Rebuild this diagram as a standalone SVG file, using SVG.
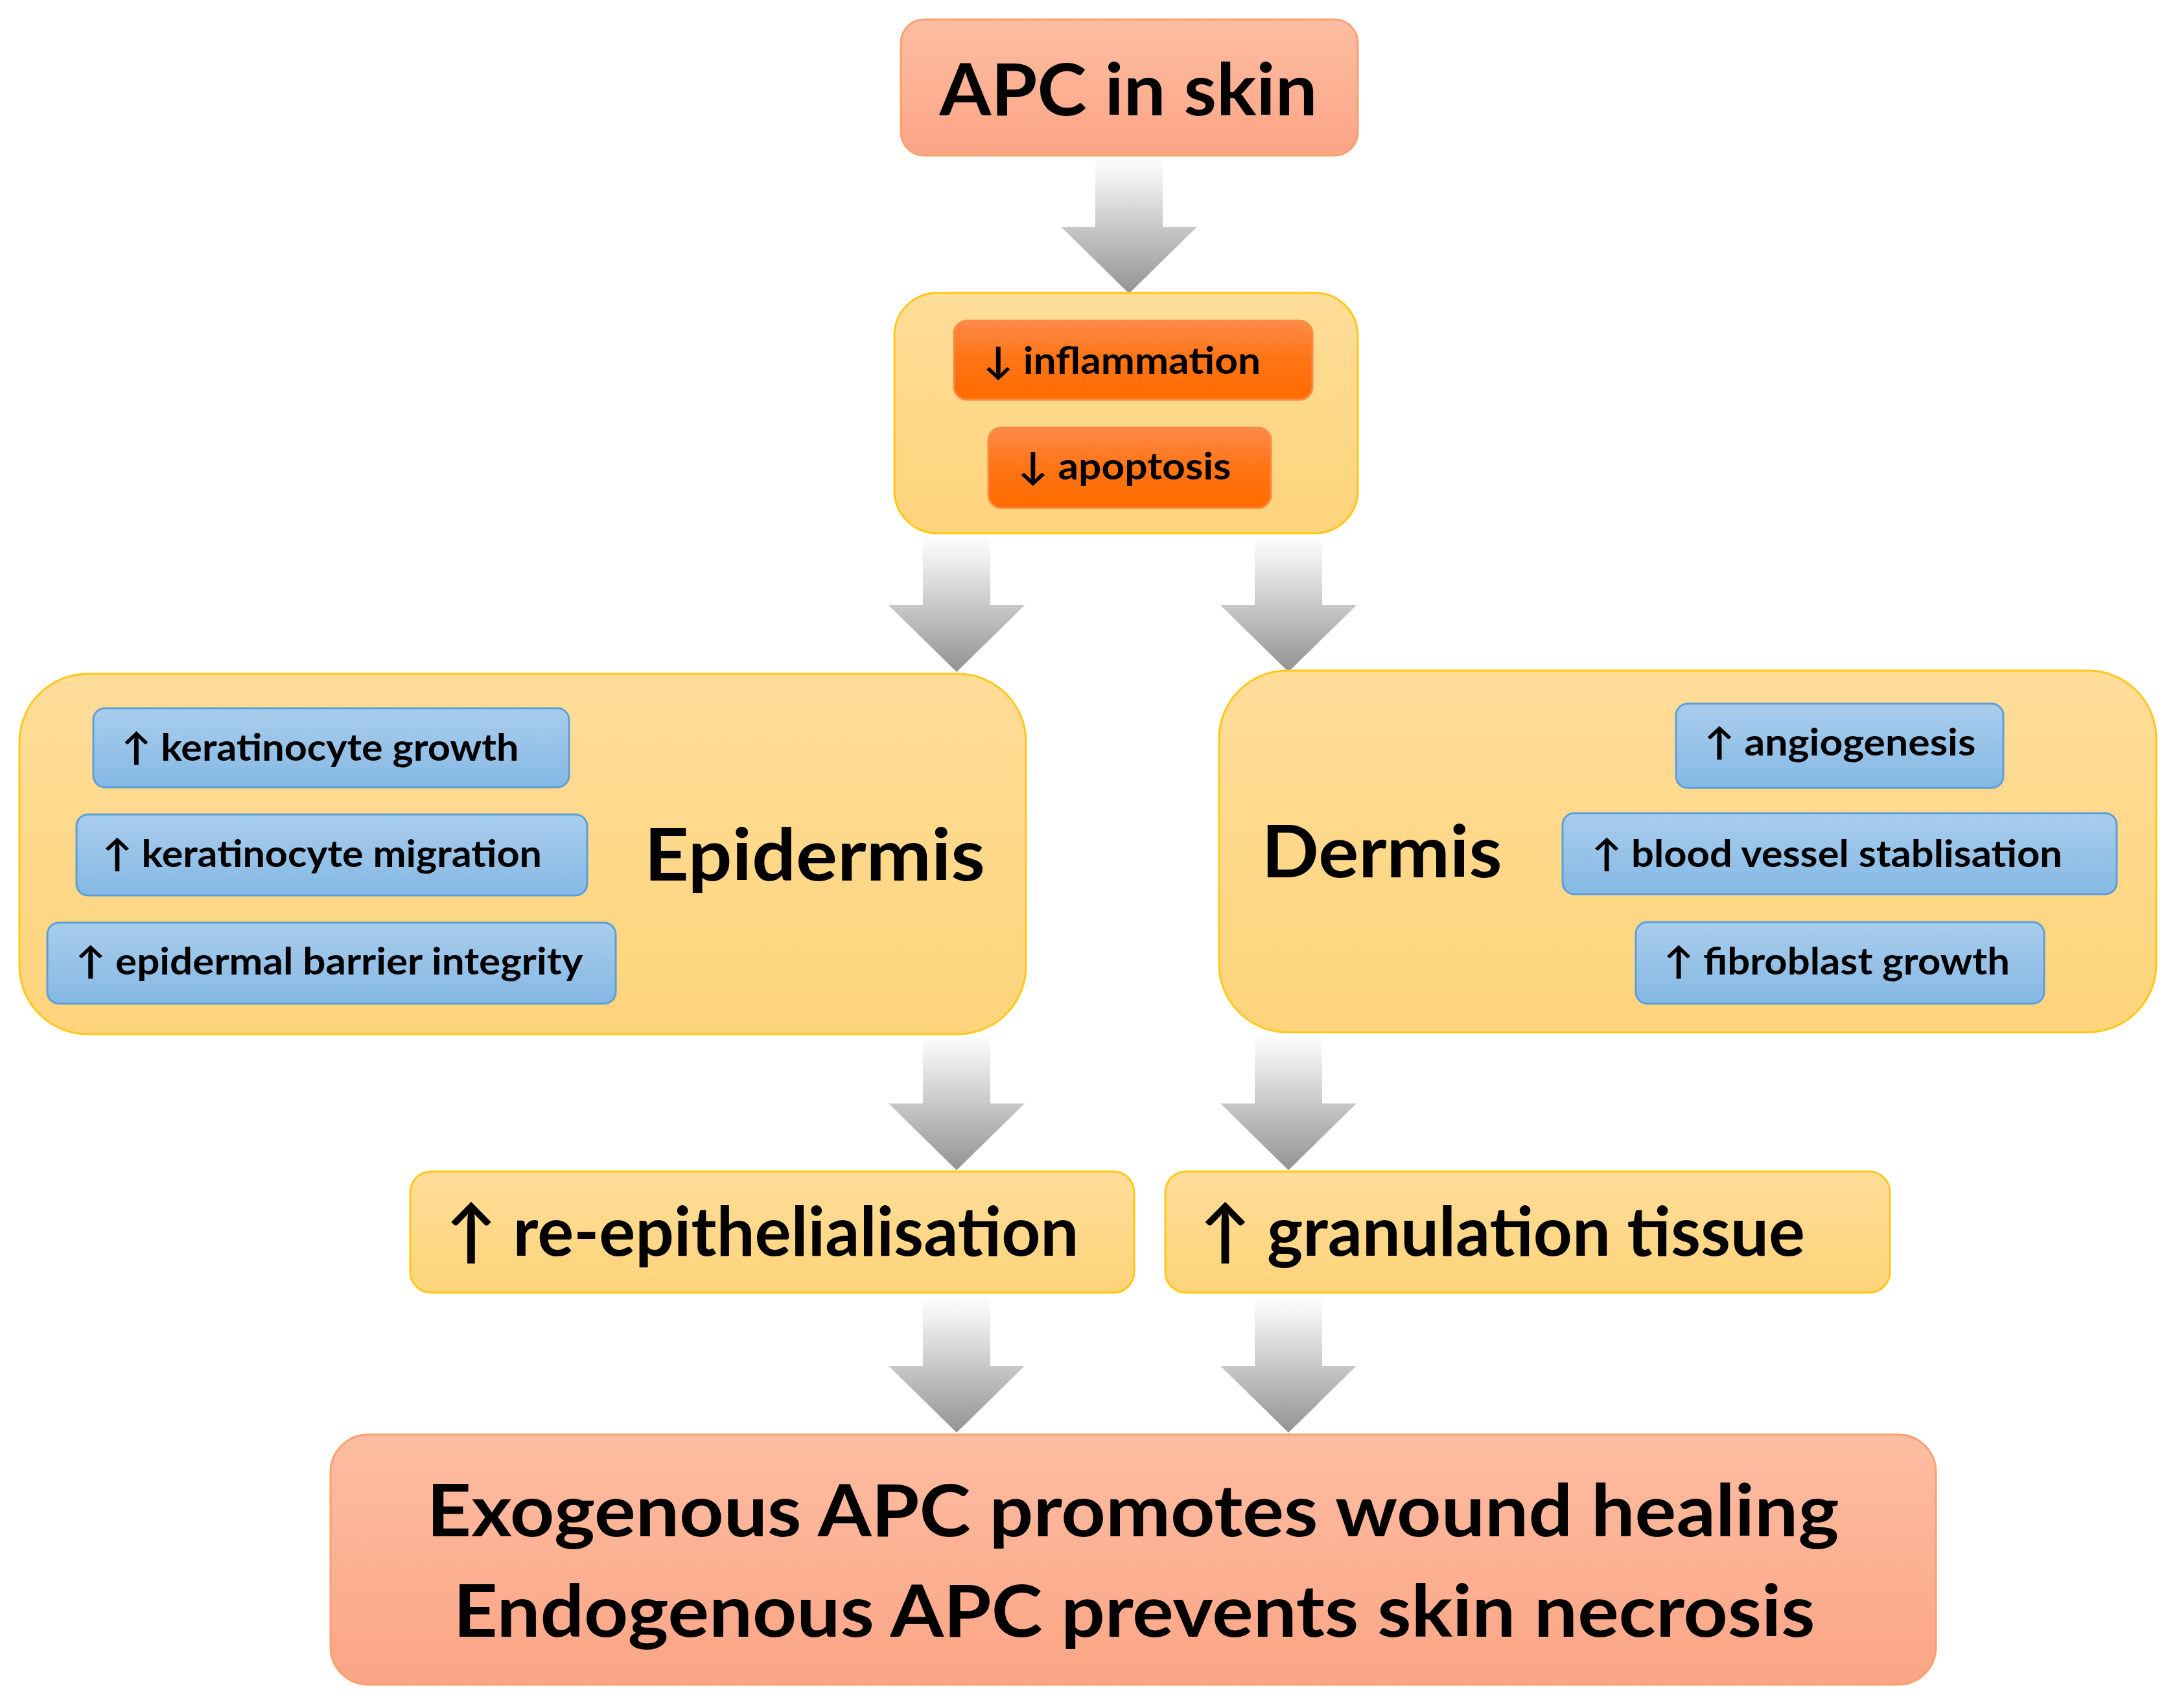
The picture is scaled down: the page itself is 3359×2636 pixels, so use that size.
<svg xmlns="http://www.w3.org/2000/svg" width="3359" height="2636" viewBox="0 0 3359 2636">
<style>
text{font-family:Lato,"Open Sans","Liberation Sans",sans-serif;font-weight:bold;fill:#000;text-anchor:middle}
.salmon{fill:url(#gSalmon);stroke:#f9a070;stroke-width:3}
.yellow{fill:url(#gYellow);stroke:#ffc819;stroke-width:3}
.orange{fill:url(#gOrange);stroke:#fb8a45;stroke-width:3}
.blue{fill:url(#gBlue);stroke:#5d9fd8;stroke-width:3}
.big{font-size:112px}
.mid{font-size:106px}
.small{font-size:58px}
</style>
<defs>
<linearGradient id="gSalmon" x1="0" y1="0" x2="0" y2="1"><stop offset="0" stop-color="#fdbda1"/><stop offset="1" stop-color="#fba585"/></linearGradient>
<linearGradient id="gYellow" x1="0" y1="0" x2="0" y2="1"><stop offset="0" stop-color="#fedd99"/><stop offset="1" stop-color="#fed47b"/></linearGradient>
<linearGradient id="gOrange" x1="0" y1="0" x2="0" y2="1"><stop offset="0" stop-color="#fd8a48"/><stop offset="0.5" stop-color="#ff7414"/><stop offset="1" stop-color="#ff6b00"/></linearGradient>
<linearGradient id="gBlue" x1="0" y1="0" x2="0" y2="1"><stop offset="0" stop-color="#a9cdec"/><stop offset="1" stop-color="#85b8e4"/></linearGradient>
<linearGradient id="gArrow" x1="0" y1="0" x2="0" y2="1"><stop offset="0" stop-color="#fcfcfc"/><stop offset="0.15" stop-color="#efefef"/><stop offset="0.5" stop-color="#c8c8c8"/><stop offset="1" stop-color="#939393"/></linearGradient>
<polygon id="arrow" points="-52,0 52,0 52,103 105,103 0,206 -105,103 -52,103" fill="url(#gArrow)"/>
</defs>
<rect width="3359" height="2636" fill="#fff"/>
<g id="connectors">
<use href="#arrow" transform="translate(1742,247)"/>
<use href="#arrow" transform="translate(1476,831)"/>
<use href="#arrow" transform="translate(1988,831)"/>
<use href="#arrow" transform="translate(1476,1600)"/>
<use href="#arrow" transform="translate(1988,1600)"/>
<use href="#arrow" transform="translate(1476,2005)"/>
<use href="#arrow" transform="translate(1988,2005)"/>
</g>
<g id="apc-in-skin">
<rect class="salmon" x="1390" y="30" width="705" height="210" rx="36"/>
<text class="big" x="1741" y="178" textLength="583" lengthAdjust="spacingAndGlyphs">APC in skin</text>
</g>
<g id="effects">
<rect class="yellow" x="1380" y="452" width="715" height="371" rx="66"/>
</g>
<g id="inflammation">
<rect class="orange" x="1472" y="495" width="553" height="122" rx="20"/>
<text class="small" x="1731" y="577" textLength="428" lengthAdjust="spacingAndGlyphs">↓ inflammation</text>
</g>
<g id="apoptosis">
<rect class="orange" x="1525" y="660" width="436" height="124" rx="20"/>
<text class="small" x="1735" y="740" textLength="329" lengthAdjust="spacingAndGlyphs">↓ apoptosis</text>
</g>
<g id="epidermis">
<rect class="yellow" x="30" y="1040" width="1553" height="556" rx="105"/>
<text class="big" x="1257" y="1359" textLength="526" lengthAdjust="spacingAndGlyphs">Epidermis</text>
</g>
<g id="keratinocyte-growth">
<rect class="blue" x="144" y="1093" width="734" height="122" rx="18"/>
<text class="small" x="494" y="1174" textLength="613" lengthAdjust="spacingAndGlyphs">↑ keratinocyte growth</text>
</g>
<g id="keratinocyte-migration">
<rect class="blue" x="118" y="1257" width="788" height="125" rx="18"/>
<text class="small" x="497" y="1338" textLength="678" lengthAdjust="spacingAndGlyphs">↑ keratinocyte migration</text>
</g>
<g id="epidermal-barrier">
<rect class="blue" x="73" y="1424" width="877" height="125" rx="18"/>
<text class="small" x="508" y="1504" textLength="783" lengthAdjust="spacingAndGlyphs">↑ epidermal barrier integrity</text>
</g>
<g id="dermis">
<rect class="yellow" x="1881" y="1035" width="1446" height="558" rx="105"/>
<text class="big" x="2132" y="1354" textLength="371" lengthAdjust="spacingAndGlyphs">Dermis</text>
</g>
<g id="angiogenesis">
<rect class="blue" x="2586" y="1086" width="505" height="130" rx="18"/>
<text class="small" x="2839" y="1166" textLength="419" lengthAdjust="spacingAndGlyphs">↑ angiogenesis</text>
</g>
<g id="blood-vessel">
<rect class="blue" x="2411" y="1255" width="855" height="125" rx="18"/>
<text class="small" x="2819" y="1338" textLength="726" lengthAdjust="spacingAndGlyphs">↑ blood vessel stablisation</text>
</g>
<g id="fibroblast-growth">
<rect class="blue" x="2524" y="1423" width="630" height="126" rx="18"/>
<text class="small" x="2834" y="1504" textLength="534" lengthAdjust="spacingAndGlyphs">↑ fibroblast growth</text>
</g>
<g id="re-epithelialisation">
<rect class="yellow" x="633" y="1808" width="1117" height="187" rx="32"/>
<text class="mid" x="1176" y="1938" textLength="977" lengthAdjust="spacingAndGlyphs">↑ re-epithelialisation</text>
</g>
<g id="granulation-tissue">
<rect class="yellow" x="1798" y="1808" width="1118" height="187" rx="32"/>
<text class="mid" x="2318" y="1938" textLength="934" lengthAdjust="spacingAndGlyphs">↑ granulation tissue</text>
</g>
<g id="outcome">
<rect class="salmon" x="510" y="2214" width="2477" height="386" rx="58"/>
<text class="big" x="1748" y="2371" textLength="2179" lengthAdjust="spacingAndGlyphs">Exogenous APC promotes wound healing</text>
<text class="big" x="1750" y="2526" textLength="2101" lengthAdjust="spacingAndGlyphs">Endogenous APC prevents skin necrosis</text>
</g>
</svg>
